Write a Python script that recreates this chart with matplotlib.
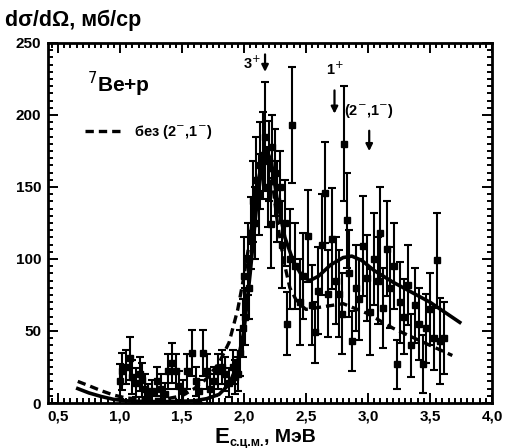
import numpy as np
import matplotlib.pyplot as plt
from matplotlib.ticker import MultipleLocator, FuncFormatter
from matplotlib.lines import Line2D

plt.rcParams['font.family'] = ['Liberation Sans', 'DejaVu Sans']

# measured points: energy (MeV), cross section (mb/sr), error
energy = [1.00, 1.02, 1.05, 1.08, 1.10, 1.13, 1.16, 1.18, 1.20, 1.23, 1.26,
          1.30, 1.33, 1.36, 1.39, 1.42, 1.45, 1.48, 1.51, 1.54, 1.58, 1.61,
          1.64, 1.67, 1.70, 1.73, 1.76, 1.79, 1.82, 1.85, 1.88, 1.91, 1.93,
          1.95, 1.97, 1.99, 2.00, 2.01, 2.03, 2.04, 2.06, 2.07, 2.09, 2.10,
          2.12, 2.13, 2.15, 2.17, 2.19, 2.20, 2.22, 2.23, 2.25, 2.27, 2.29,
          2.31, 2.33, 2.35, 2.37, 2.39, 2.41, 2.45, 2.48, 2.52, 2.55, 2.57,
          2.60, 2.63, 2.65, 2.68, 2.71, 2.74, 2.77, 2.79, 2.81, 2.83, 2.85,
          2.87, 2.90, 2.93, 2.96, 2.99, 3.02, 3.05, 3.08, 3.10, 3.12, 3.15,
          3.18, 3.21, 3.23, 3.26, 3.29, 3.32, 3.35, 3.38, 3.41, 3.44, 3.47,
          3.50, 3.53, 3.56, 3.58, 3.61]
sigma = [15, 22, 25, 31, 18, 14, 20, 16, 10, 5, 8,
         15, 10, 6, 22, 28, 22, 12, 8, 22, 35, 15,
         8, 35, 22, 10, 15, 22, 25, 20, 14, 25, 18,
         20, 35, 52, 88, 60, 100, 80, 118, 140, 125, 155,
         145, 165, 172, 185, 150, 168, 124, 178, 160, 140, 150,
         110, 125, 55, 100, 193, 95, 70, 88, 116, 68, 49,
         78, 110, 146, 76, 114, 85, 76, 62, 180, 127, 90,
         43, 80, 72, 109, 87, 63, 100, 85, 118, 66, 107,
         80, 95, 27, 70, 60, 82, 40, 68, 55, 27, 52,
         65, 45, 99, 43, 45]
err = [12, 13, 12, 15, 12, 10, 12, 12, 10, 8, 8,
       10, 10, 8, 12, 14, 12, 10, 8, 12, 16, 10,
       8, 16, 12, 10, 10, 12, 12, 12, 10, 12, 12,
       12, 16, 20, 27, 20, 25, 22, 25, 28, 25, 30,
       28, 30, 30, 38, 28, 28, 30, 22, 30, 28, 25,
       30, 30, 22, 35, 40, 30, 30, 30, 32, 28, 21,
       30, 35, 35, 30, 35, 30, 30, 28, 40, 33, 30,
       21, 30, 28, 35, 30, 30, 32, 30, 32, 28, 33,
       28, 30, 17, 28, 26, 28, 22, 26, 25, 20, 24,
       25, 22, 33, 30, 25]

# full fit
fit_e = [0.66, 0.75, 0.85, 0.95, 1.05, 1.2, 1.4, 1.6, 1.7, 1.8, 1.88, 1.94,
         2.00, 2.05, 2.10, 2.15, 2.18, 2.22, 2.27, 2.33, 2.40, 2.47, 2.53,
         2.60, 2.70, 2.80, 2.87, 2.95, 3.05, 3.20, 3.35, 3.50, 3.62, 3.74]
fit_s = [10, 7, 4.5, 2.5, 1.5, 1, 1, 1.5, 3, 6, 13, 25,
         50, 90, 135, 168, 176, 168, 140, 115, 98, 88, 85,
         88, 96, 101, 102, 99, 92, 84, 77, 70, 63, 56]

# fit without (2-,1-)
nofit_e = [0.66, 0.75, 0.85, 0.95, 1.05, 1.2, 1.35, 1.5, 1.6, 1.7, 1.8, 1.88,
           1.95, 2.00, 2.05, 2.10, 2.15, 2.18, 2.22, 2.27, 2.32, 2.37, 2.43,
           2.50, 2.65, 2.80, 3.00, 3.20, 3.40, 3.68]
nofit_s = [15, 12, 8.5, 5.5, 3.5, 2.5, 2.5, 5, 10, 17, 28, 42,
           65, 88, 115, 148, 170, 174, 160, 125, 99, 80, 70,
           65, 67, 69, 62, 52, 44, 33]

fig = plt.figure(figsize=(5.08, 4.48), dpi=100)
ax = fig.add_axes([48 / 508, 1 - 403 / 448, 444 / 508, 360 / 448])

ax.errorbar(energy, sigma, yerr=err, fmt='s', color='black', ms=4.5,
            elinewidth=1.5, capsize=3, capthick=1.5)
ax.plot(fit_e, fit_s, '-', color='black', lw=2.6)
ax.plot(nofit_e, nofit_s, '--', color='black', lw=2.4, dashes=(2.5, 1.5))

ax.set_xlim(0.42, 4.0)
ax.set_ylim(0, 250)
ax.xaxis.set_major_locator(MultipleLocator(0.5))
ax.xaxis.set_minor_locator(MultipleLocator(0.05))
ax.yaxis.set_major_locator(MultipleLocator(50))
ax.yaxis.set_minor_locator(MultipleLocator(5))
ax.xaxis.set_major_formatter(FuncFormatter(lambda v, p: f"{v:.1f}".replace('.', ',')))
ax.tick_params(which='both', direction='in', top=True, right=True, width=1.4)
ax.tick_params(which='major', length=7, labelsize=11, pad=5)
ax.tick_params(which='minor', length=3.5)
for lab in ax.get_xticklabels() + ax.get_yticklabels():
    lab.set_fontweight('bold')
for sp in ax.spines.values():
    sp.set_linewidth(2)

# resonance arrows
arrow_kw = dict(arrowstyle='-|>', color='black', lw=1.6, mutation_scale=10)
ax.annotate('', xy=(2.17, 228), xytext=(2.17, 244), arrowprops=arrow_kw)
ax.text(2.065, 236, '3$^{+}$', fontsize=10.5, fontweight='bold', ha='center', va='center')
ax.annotate('', xy=(2.73, 199), xytext=(2.73, 219), arrowprops=arrow_kw)
ax.text(2.73, 232, '1$^{+}$', fontsize=10.5, fontweight='bold', ha='center', va='center')
ax.annotate('', xy=(3.01, 173), xytext=(3.01, 191), arrowprops=arrow_kw)
ax.text(3.01, 203, '(2$^{-}$,1$^{-}$)', fontsize=10.5, fontweight='bold', ha='center', va='center')

ax.text(0.088, 0.885, '$^{7}$Be+p', transform=ax.transAxes, fontsize=15,
        fontweight='bold', va='center')

h = Line2D([], [], color='black', ls='--', lw=2.4, dashes=(2.5, 1.5))
ax.legend([h], ['без (2$^{-}$,1$^{-}$)'], loc='center left', bbox_to_anchor=(0.083, 0.753),
          frameon=False, borderpad=0, borderaxespad=0, handlelength=2.6,
          handletextpad=0.8, prop={'size': 10.5, 'weight': 'bold'})

fig.text(5 / 508, 1 - 20 / 448, 'dσ/dΩ, мб/ср', fontsize=15.5, fontweight='bold',
         ha='left', va='center')
fig.text(215 / 508, 1 - 437 / 448, 'E', fontsize=16, fontweight='bold', ha='left', va='center')
fig.text(230 / 508, 1 - 443 / 448, 'с.ц.м.', fontsize=9, fontweight='bold', ha='left', va='center')
fig.text(264 / 508, 1 - 437 / 448, ', МэВ', fontsize=14, fontweight='bold', ha='left', va='center')

fig.savefig('out.png', dpi=100)
